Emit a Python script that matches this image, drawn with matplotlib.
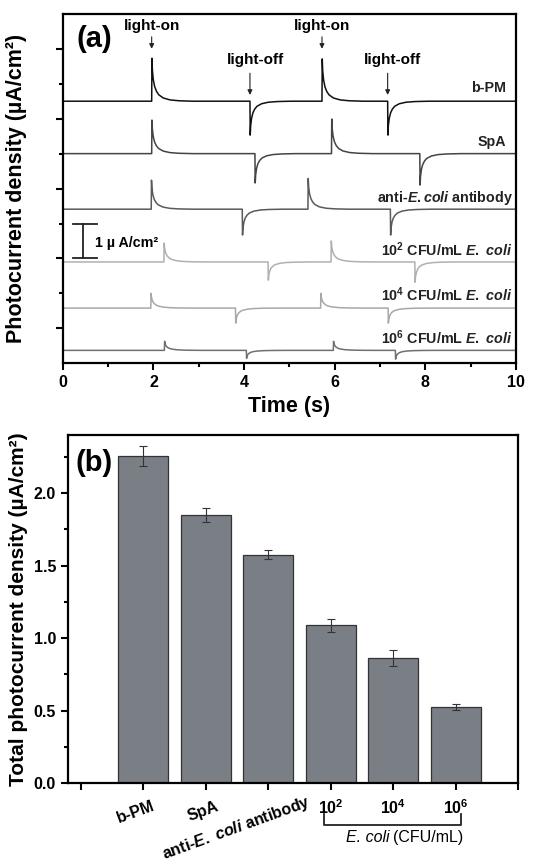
import matplotlib
matplotlib.use("Agg")
import matplotlib.pyplot as plt
import matplotlib.transforms as mtransforms
import numpy as np

plt.rcParams['font.family'] = ['Liberation Sans', 'DejaVu Sans']
plt.rcParams['font.weight'] = 'bold'
plt.rcParams['mathtext.fontset'] = 'custom'
plt.rcParams['mathtext.rm'] = 'Liberation Sans:bold'
plt.rcParams['mathtext.bf'] = 'Liberation Sans:bold'
plt.rcParams['mathtext.it'] = 'Liberation Sans:italic:bold'

# ---------------- Panel (a) data ----------------
trace_names = ['b-PM', 'SpA', 'anti-E.coli antibody', '1e2', '1e4', '1e6']
trace_colors = ['#111111', '#444444', '#5a5a5a', '#b0b0b0', '#a8a8a8', '#707070']
trace_base = [7.5, 6.0, 4.41, 2.9, 1.58, 0.37]
# light-on times / amplitudes, light-off times / amplitudes
on_times = [[1.96, 5.72], [1.96, 5.93], [1.95, 5.41], [2.23, 5.92], [1.94, 5.69], [2.24, 5.97]]
on_amps = [[1.23, 1.21], [0.96, 0.99], [0.83, 0.88], [0.54, 0.60], [0.42, 0.42], [0.26, 0.26]]
off_times = [[4.13, 7.17], [4.24, 7.88], [3.96, 7.23], [4.53, 7.77], [3.81, 7.18], [4.05, 7.34]]
off_amps = [[-0.97, -0.97], [-0.84, -0.90], [-0.74, -0.74], [-0.52, -0.58], [-0.43, -0.43], [-0.23, -0.25]]
# transient decay shape (time after edge, fraction of peak)
decay_dt = [0.0, 0.01, 0.03, 0.06, 0.10, 0.15, 0.25, 0.40, 0.60, 0.90]
decay_frac = [1.0, 0.72, 0.50, 0.34, 0.23, 0.15, 0.075, 0.03, 0.01, 0.0]

trace_labels = ['b-PM', 'SpA', r'anti-$\mathit{E.coli}$ antibody',
                r'10$^{2}$ CFU/mL $\mathit{E.\ coli}$',
                r'10$^{4}$ CFU/mL $\mathit{E.\ coli}$',
                r'10$^{6}$ CFU/mL $\mathit{E.\ coli}$']
label_y = [7.88, 6.33, 4.73, 3.24, 1.95, 0.74]
label_x = [9.78, 9.78, 9.93, 9.93, 9.93, 9.93]

# ---------------- Panel (b) data ----------------
bar_cats = ['b-PM', 'SpA', r'anti-$\mathit{E.}$ $\mathit{coli}$ antibody',
            r'10$^{2}$', r'10$^{4}$', r'10$^{6}$']
bar_vals = [2.255, 1.85, 1.575, 1.09, 0.86, 0.525]
bar_errs = [0.07, 0.05, 0.03, 0.045, 0.055, 0.02]

fig = plt.figure(figsize=(5.47, 8.65), dpi=100)

# ================= Panel (a) =================
axa = fig.add_axes([0.115, 0.580, 0.828, 0.404])


def build_trace(base, events):
    xs, ys = [0.0], [base]
    for t, a in sorted(events):
        xs.append(t)
        ys.append(base)
        for dt, fr in zip(decay_dt, decay_frac):
            xs.append(t + 0.006 + dt)
            ys.append(base + a * fr)
    xs.append(10.0)
    ys.append(base)
    return xs, ys


for i in range(len(trace_names)):
    ev = list(zip(on_times[i], on_amps[i])) + list(zip(off_times[i], off_amps[i]))
    xs, ys = build_trace(trace_base[i], ev)
    axa.plot(xs, ys, color=trace_colors[i], lw=1.1)
    axa.text(label_x[i], label_y[i], trace_labels[i], ha='right', va='center',
             fontsize=10.3, fontweight='bold', color='#222222')

axa.set_xlim(0, 10)
axa.set_ylim(0, 10)
axa.set_xticks([0, 2, 4, 6, 8, 10])
axa.set_xticks([1, 3, 5, 7, 9], minor=True)
axa.set_yticks([1, 3, 5, 7, 9])
axa.set_yticks([2, 4, 6, 8], minor=True)
axa.set_yticklabels([])
axa.tick_params(axis='both', which='major', direction='out', length=5, width=1.5, labelsize=11.5)
axa.tick_params(axis='both', which='minor', direction='out', length=3, width=1.5)
for lab in axa.get_xticklabels():
    lab.set_fontweight('bold')
for s in axa.spines.values():
    s.set_linewidth(1.6)
axa.set_xlabel('Time (s)', fontsize=15.5, fontweight='bold', labelpad=4)
axa.set_ylabel('Photocurrent density (µA/cm²)', fontsize=15.5, fontweight='bold', labelpad=17)

axa.text(0.29, 9.28, '(a)', fontsize=21, fontweight='bold', ha='left', va='center')

# light on/off annotations
for x_txt, x_arr in [(1.96, 1.96), (5.72, 5.72)]:
    axa.annotate('', xy=(x_arr, 8.92), xytext=(x_arr, 9.42),
                 arrowprops=dict(arrowstyle='-|>', color='#222222', lw=0.8,
                                 mutation_scale=7))
    axa.text(x_txt, 9.66, 'light-on', ha='center', va='center', fontsize=11,
             fontweight='bold')
for x_txt, x_arr in [(4.26, 4.13), (7.28, 7.17)]:
    axa.annotate('', xy=(x_arr, 7.6), xytext=(x_arr, 8.38),
                 arrowprops=dict(arrowstyle='-|>', color='#222222', lw=0.8,
                                 mutation_scale=7))
    axa.text(x_txt, 8.68, 'light-off', ha='center', va='center', fontsize=11,
             fontweight='bold')

# scale bar 1 uA/cm2
axa.plot([0.44, 0.44], [3.0, 4.0], color='#222222', lw=1.3)
axa.plot([0.22, 0.75], [3.0, 3.0], color='#222222', lw=1.3)
axa.plot([0.22, 0.75], [4.0, 4.0], color='#222222', lw=1.3)
axa.text(0.7, 3.44, '1 µ A/cm²', fontsize=10.3, fontweight='bold', ha='left', va='center')

# ================= Panel (b) =================
axb = fig.add_axes([0.124, 0.0948, 0.823, 0.402])
xpos = np.arange(1, len(bar_vals) + 1)
axb.bar(xpos, bar_vals, width=0.8, color='#7a7e85', edgecolor='#333333', linewidth=0.9,
        yerr=bar_errs, error_kw=dict(ecolor='#333333', elinewidth=0.8, capsize=3, capthick=0.8))
axb.set_xlim(-0.21, 7.0)
axb.set_ylim(0, 2.4)
axb.set_xticks(np.arange(0, 8))
axb.set_xticklabels([])
axb.set_yticks([0.0, 0.5, 1.0, 1.5, 2.0])
axb.set_yticks([0.25, 0.75, 1.25, 1.75, 2.25], minor=True)
axb.set_yticklabels(['0.0', '0.5', '1.0', '1.5', '2.0'])
axb.tick_params(axis='both', which='major', direction='out', length=5, width=1.5, labelsize=11.5)
axb.tick_params(axis='both', which='minor', direction='out', length=3, width=1.5)
for lab in axb.get_yticklabels():
    lab.set_fontweight('bold')
for s in axb.spines.values():
    s.set_linewidth(1.6)
axb.set_ylabel('Total photocurrent density (µA/cm²)', fontsize=15, fontweight='bold', labelpad=4)

axb.text(-0.08, 2.21, '(b)', fontsize=21, fontweight='bold', ha='left', va='center')

trans = mtransforms.blended_transform_factory(axb.transData, axb.transAxes)
rot_label_x = [1.13, 2.15, 3.62]
rot_label_y = [-0.045, -0.045, -0.028]
for xv, yv, t in zip(rot_label_x, rot_label_y, bar_cats[:3]):
    axb.text(xv, yv, t, transform=trans, ha='right', va='top', rotation=20,
             rotation_mode='anchor', fontsize=11.5, fontweight='bold')
for xv, t in zip(xpos[3:], bar_cats[3:]):
    axb.text(xv, -0.045, t, transform=trans, ha='center', va='top', fontsize=11.5,
             fontweight='bold')

# bracket for E. coli concentrations
axb.plot([3.9, 3.9, 6.09, 6.09], [-0.088, -0.12, -0.12, -0.088], transform=trans,
         color='#222222', lw=1.3, clip_on=False)
axb.text(4.94, -0.158, 'E. coli', transform=trans, ha='right', va='center',
         fontsize=11.5, fontweight='normal', style='italic')
axb.text(4.99, -0.158, '(CFU/mL)', transform=trans, ha='left', va='center',
         fontsize=11.5, fontweight='normal')

fig.savefig('out.png', dpi=100)
